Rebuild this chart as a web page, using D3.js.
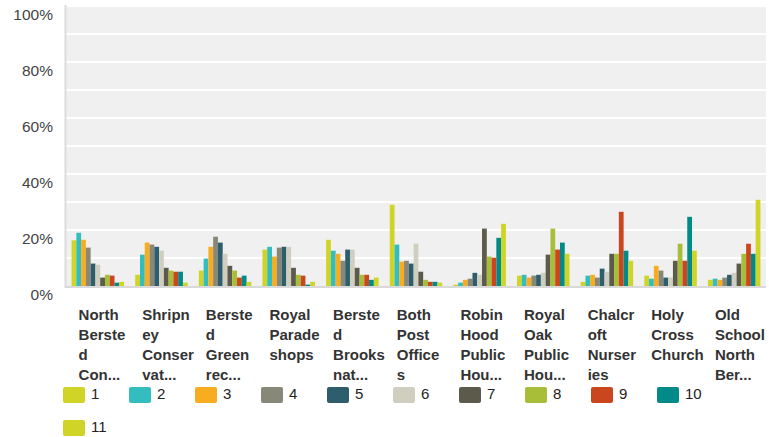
<!DOCTYPE html>
<html>
<head>
<meta charset="utf-8">
<script src="https://cdn.jsdelivr.net/npm/d3@7"></script>
<style>
  html, body { margin: 0; padding: 0; background: #ffffff; }
  svg { display: block; font-family: "Liberation Sans", Arial, Helvetica, sans-serif; }
</style>
</head>
<body>
<svg id="chart" width="769" height="437"></svg>
<script>
// Categories (as shown under the axis)
const categories = [
  "North Bersted Con...",
  "Shripney Conservat...",
  "Bersted Green rec...",
  "Royal Parade shops",
  "Bersted Brooks nat...",
  "Both Post Offices",
  "Robin Hood Public Hou...",
  "Royal Oak Public Hou...",
  "Chalcroft Nurseries",
  "Holy Cross Church",
  "Old School North Ber..."
];

// Series names (ratings 1..11)
const seriesNames = ["1", "2", "3", "4", "5", "6", "7", "8", "9", "10", "11"];

// Percentages per series, one value per category
const series1  = [16.3, 4.0, 5.5, 13.0, 16.5, 29.0, 0.5, 3.7, 1.5, 3.7, 2.2];
const series2  = [19.0, 11.2, 9.8, 14.0, 12.6, 14.8, 1.2, 4.0, 3.7, 2.6, 2.6];
const series3  = [16.5, 15.5, 14.0, 10.5, 11.5, 8.7, 2.2, 3.0, 4.0, 7.2, 2.2];
const series4  = [13.7, 14.8, 17.6, 13.7, 9.0, 9.0, 2.6, 3.7, 3.0, 5.5, 3.0];
const series5  = [8.0, 14.0, 15.5, 14.0, 13.0, 8.0, 4.7, 4.0, 6.2, 3.0, 4.0];
const series6  = [7.6, 12.6, 11.5, 14.0, 13.0, 15.1, 4.0, 4.7, 5.1, 3.0, 4.7];
const series7  = [3.0, 6.5, 7.2, 6.5, 6.5, 5.1, 20.5, 11.2, 11.5, 9.0, 8.0];
const series8  = [4.0, 5.5, 5.5, 4.0, 4.0, 2.2, 10.5, 20.5, 11.5, 15.1, 11.5];
const series9  = [3.7, 5.1, 3.0, 3.7, 4.0, 1.5, 10.1, 13.0, 26.5, 9.0, 15.1];
const series10 = [1.2, 5.1, 3.7, 0.5, 2.2, 1.5, 17.2, 15.5, 12.6, 24.7, 11.5];
const series11 = [1.5, 1.2, 1.5, 1.5, 3.0, 1.2, 22.2, 11.5, 9.0, 12.6, 30.8];

const seriesValues = [series1, series2, series3, series4, series5, series6,
                      series7, series8, series9, series10, series11];

// Axis ticks
const yTicks = [0, 20, 40, 60, 80, 100];
const yGrid = [0, 10, 20, 30, 40, 50, 60, 70, 80, 90, 100];

const colors = ["#cfd426", "#33bdbf", "#f7ad1f", "#888878", "#2e5e6c", "#d0cfbf",
                "#5b5a4b", "#a9be38", "#c9461e", "#028a88", "#cfd426"];

const svg = d3.select("#chart");

const plot = { left: 66, right: 766, top: 5, bottom: 286 };

const x0 = d3.scaleBand()
  .domain(categories)
  .range([plot.left, plot.right])
  .paddingInner(0.175)
  .paddingOuter(0.0875);

const x1 = d3.scaleBand()
  .domain(seriesNames)
  .range([0, x0.bandwidth()]);

const y = d3.scaleLinear()
  .domain([0, 100])
  .range([plot.bottom, 6]);

const color = d3.scaleOrdinal().domain(seriesNames).range(colors);

// Plot background
svg.append("rect")
  .attr("x", plot.left)
  .attr("y", plot.top)
  .attr("width", plot.right - plot.left)
  .attr("height", plot.bottom - plot.top)
  .attr("fill", "#f0f0f0");

// Gridlines
svg.append("g")
  .selectAll("line")
  .data(yGrid.filter(d => d > 0))
  .join("line")
  .attr("x1", plot.left)
  .attr("x2", plot.right)
  .attr("y1", d => y(d))
  .attr("y2", d => y(d))
  .attr("stroke", "#ffffff")
  .attr("stroke-width", 2);

// Bars
const groups = svg.append("g")
  .selectAll("g")
  .data(categories)
  .join("g")
  .attr("transform", d => `translate(${x0(d)},0)`);

groups.selectAll("rect")
  .data((cat, ci) => seriesNames.map((s, si) => ({ s, v: seriesValues[si][ci] })))
  .join("rect")
  .attr("x", d => x1(d.s))
  .attr("y", d => y(d.v))
  .attr("width", x1.bandwidth())
  .attr("height", d => y(0) - y(d.v))
  .attr("fill", d => color(d.s));

// Axis lines
svg.append("line")
  .attr("x1", plot.left - 0.5).attr("x2", plot.left - 0.5)
  .attr("y1", plot.top).attr("y2", plot.bottom + 2)
  .attr("stroke", "#dcdcdc").attr("stroke-width", 2);

svg.append("line")
  .attr("x1", plot.left - 1).attr("x2", plot.right)
  .attr("y1", plot.bottom + 1).attr("y2", plot.bottom + 1)
  .attr("stroke", "#d9d9d9").attr("stroke-width", 2);

// Y tick labels
svg.append("g")
  .selectAll("text")
  .data(yTicks)
  .join("text")
  .attr("x", 53)
  .attr("y", d => y(d) + 8)
  .attr("text-anchor", "end")
  .attr("dominant-baseline", "central")
  .attr("font-size", "15.5px")
  .attr("fill", "#444444")
  .text(d => d + "%");

// Category labels, wrapped at six characters per line, max four lines
function wrapLabel(label, maxChars, maxLines) {
  const lines = [];
  let cur = "";
  label.split(" ").forEach(word => {
    if (cur && (cur + " " + word).length <= maxChars) {
      cur += " " + word;
      return;
    }
    if (cur) lines.push(cur);
    cur = "";
    let w = word;
    while (w.length > maxChars) {
      lines.push(w.slice(0, maxChars));
      w = w.slice(maxChars);
    }
    cur = w;
  });
  if (cur) lines.push(cur);
  if (lines.length > maxLines) {
    const kept = lines.slice(0, maxLines);
    kept[maxLines - 1] = kept[maxLines - 1].slice(0, 3) + "...";
    return kept;
  }
  return lines;
}

const labelG = svg.append("g");
categories.forEach(cat => {
  const t = labelG.append("text")
    .attr("x", x0(cat) + 7)
    .attr("y", 314)
    .attr("font-size", "15px")
    .attr("font-weight", "bold")
    .attr("fill", "#333333")
    .attr("dominant-baseline", "central");
  wrapLabel(cat, 6, 4).forEach((line, i) => {
    t.append("tspan")
      .attr("x", x0(cat) + 7)
      .attr("y", 314 + i * 20)
      .text(line);
  });
});

// Legend
const legend = svg.append("g");
seriesNames.forEach((s, i) => {
  const col = i % 10;
  const row = Math.floor(i / 10);
  const lx = 63 + col * 66;
  const ly = 387 + row * 33;
  legend.append("rect")
    .attr("x", lx).attr("y", ly)
    .attr("width", 22).attr("height", 16)
    .attr("rx", 2).attr("ry", 2)
    .attr("fill", color(s));
  legend.append("text")
    .attr("x", lx + 28)
    .attr("y", ly + 6)
    .attr("dominant-baseline", "central")
    .attr("font-size", "15px")
    .attr("fill", "#222222")
    .text(s);
});
</script>
</body>
</html>
